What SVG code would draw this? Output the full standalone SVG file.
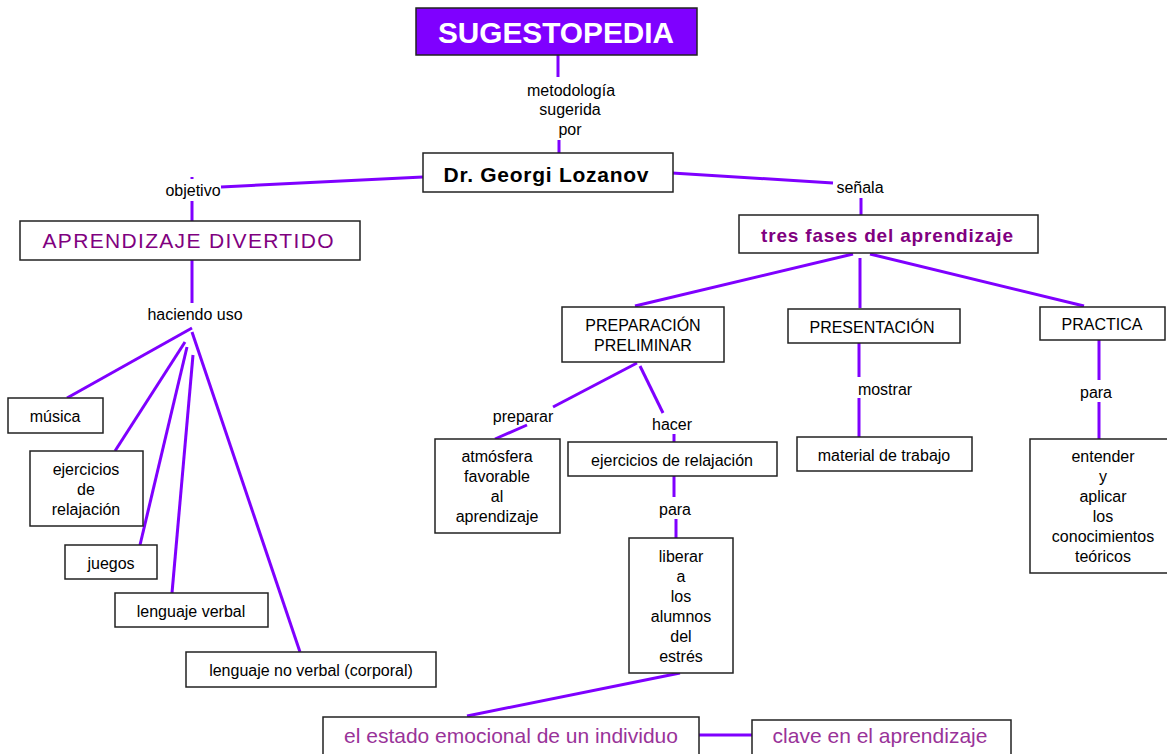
<svg xmlns="http://www.w3.org/2000/svg" width="1167" height="754" viewBox="0 0 1167 754">
<style>
.box{fill:#fff;stroke:#222;stroke-width:1.5}
.t{font-family:"Liberation Sans",Arial,sans-serif;font-size:16px;fill:#000;text-anchor:middle}
.p1{font-family:"Liberation Sans",Arial,sans-serif;font-size:21px;fill:#800080;text-anchor:middle}
.p2{font-family:"Liberation Sans",Arial,sans-serif;font-size:21px;fill:#993399;text-anchor:middle}
.c{stroke:#7F00FF;stroke-width:3;fill:none;stroke-linecap:butt}
</style>
<rect width="1167" height="754" fill="#fff"/>
<g id="connectors">
<line class="c" x1="558" y1="55" x2="558" y2="77"/>
<line class="c" x1="559" y1="140" x2="559" y2="153"/>
<line class="c" x1="423" y1="177" x2="221" y2="187"/>
<line class="c" x1="192" y1="177" x2="192" y2="179"/>
<line class="c" x1="192" y1="201" x2="192" y2="221"/>
<line class="c" x1="192" y1="260" x2="192" y2="303"/>
<line class="c" x1="192" y1="328" x2="67" y2="398"/>
<line class="c" x1="185" y1="342" x2="115" y2="451"/>
<line class="c" x1="187" y1="347" x2="140" y2="545"/>
<line class="c" x1="193" y1="355" x2="172" y2="593"/>
<line class="c" x1="192" y1="332" x2="300" y2="652"/>
<line class="c" x1="672" y1="173" x2="833" y2="183"/>
<line class="c" x1="861" y1="198" x2="861" y2="215"/>
<line class="c" x1="853" y1="254" x2="635" y2="306"/>
<line class="c" x1="860" y1="258" x2="860" y2="308"/>
<line class="c" x1="870" y1="254" x2="1084" y2="306"/>
<line class="c" x1="859" y1="343" x2="859" y2="377"/>
<line class="c" x1="859" y1="398" x2="859" y2="437"/>
<line class="c" x1="1099" y1="340" x2="1099" y2="380"/>
<line class="c" x1="1099" y1="402" x2="1099" y2="439"/>
<line class="c" x1="637" y1="363" x2="553" y2="407"/>
<line class="c" x1="527" y1="425" x2="495" y2="439"/>
<line class="c" x1="640" y1="366" x2="663" y2="413"/>
<line class="c" x1="674" y1="434" x2="674" y2="442"/>
<line class="c" x1="674" y1="476" x2="674" y2="497"/>
<line class="c" x1="676" y1="519" x2="676" y2="538"/>
<line class="c" x1="680" y1="673" x2="467" y2="716"/>
<line class="c" x1="699" y1="735" x2="752" y2="735"/>
</g>
<g id="labels">
<text class="t" x="571" y="96">metodología</text>
<text class="t" x="570" y="115">sugerida</text>
<text class="t" x="570" y="135">por</text>
<text class="t" x="193" y="196">objetivo</text>
<text class="t" x="195" y="320">haciendo uso</text>
<text class="t" x="860" y="193">señala</text>
<text class="t" x="523" y="422">preparar</text>
<text class="t" x="672" y="430">hacer</text>
<text class="t" x="675" y="515">para</text>
<text class="t" x="885" y="395">mostrar</text>
<text class="t" x="1096" y="398">para</text>
</g>
<g id="sugestopedia">
<rect x="416" y="8" width="281" height="47" fill="#7F00FF" stroke="#222" stroke-width="1.5"/>
<text x="556" y="43" font-family="Liberation Sans,Arial,sans-serif" font-size="29" font-weight="bold" fill="#fff" text-anchor="middle" textLength="236" lengthAdjust="spacingAndGlyphs">SUGESTOPEDIA</text>
</g>
<g id="lozanov">
<rect class="box" x="423" y="153" width="250" height="39"/>
<text x="546" y="182" font-family="Liberation Sans,Arial,sans-serif" font-size="21" font-weight="bold" fill="#000" text-anchor="middle" textLength="205" lengthAdjust="spacing">Dr. Georgi Lozanov</text>
</g>
<g id="aprendizaje-divertido">
<rect class="box" x="20" y="221" width="340" height="39"/>
<text class="p1" x="188" y="248" textLength="291" lengthAdjust="spacing">APRENDIZAJE DIVERTIDO</text>
</g>
<g id="musica">
<rect class="box" x="8" y="398" width="95" height="35"/>
<text class="t" x="55" y="422">música</text>
</g>
<g id="ejercicios">
<rect class="box" x="30" y="451" width="113" height="75"/>
<text class="t" x="86" y="475">ejercicios</text>
<text class="t" x="86" y="495">de</text>
<text class="t" x="86" y="515">relajación</text>
</g>
<g id="juegos">
<rect class="box" x="65" y="545" width="92" height="34"/>
<text class="t" x="111" y="569">juegos</text>
</g>
<g id="lenguaje-verbal">
<rect class="box" x="115" y="593" width="153" height="34"/>
<text class="t" x="191" y="617">lenguaje verbal</text>
</g>
<g id="lenguaje-no-verbal">
<rect class="box" x="186" y="652" width="250" height="35"/>
<text class="t" x="311" y="676">lenguaje no verbal (corporal)</text>
</g>
<g id="tres-fases">
<rect class="box" x="739" y="215" width="299" height="38"/>
<text x="887" y="242" font-family="Liberation Sans,Arial,sans-serif" font-size="19" font-weight="bold" fill="#800080" text-anchor="middle" textLength="252" lengthAdjust="spacing">tres fases del aprendizaje</text>
</g>
<g id="preparacion">
<rect class="box" x="562" y="307" width="162" height="55"/>
<text class="t" x="643" y="331">PREPARACIÓN</text>
<text class="t" x="643" y="351">PRELIMINAR</text>
</g>
<g id="presentacion">
<rect class="box" x="788" y="309" width="172" height="34"/>
<text class="t" x="872" y="333">PRESENTACIÓN</text>
</g>
<g id="practica">
<rect class="box" x="1040" y="307" width="125" height="33"/>
<text class="t" x="1102" y="330">PRACTICA</text>
</g>
<g id="atmosfera">
<rect class="box" x="435" y="439" width="125" height="94"/>
<text class="t" x="497" y="462">atmósfera</text>
<text class="t" x="497" y="482">favorable</text>
<text class="t" x="497" y="502">al</text>
<text class="t" x="497" y="522">aprendizaje</text>
</g>
<g id="ejercicios-relajacion">
<rect class="box" x="568" y="442" width="209" height="34"/>
<text class="t" x="672" y="466">ejercicios de relajación</text>
</g>
<g id="liberar">
<rect class="box" x="629" y="538" width="104" height="135"/>
<text class="t" x="681" y="562">liberar</text>
<text class="t" x="681" y="582">a</text>
<text class="t" x="681" y="602">los</text>
<text class="t" x="681" y="622">alumnos</text>
<text class="t" x="681" y="642">del</text>
<text class="t" x="681" y="662">estrés</text>
</g>
<g id="material">
<rect class="box" x="797" y="437" width="175" height="34"/>
<text class="t" x="884" y="461">material de trabajo</text>
</g>
<g id="entender">
<rect class="box" x="1030" y="439" width="140" height="134"/>
<text class="t" x="1103" y="462">entender</text>
<text class="t" x="1103" y="482">y</text>
<text class="t" x="1103" y="502">aplicar</text>
<text class="t" x="1103" y="522">los</text>
<text class="t" x="1103" y="542">conocimientos</text>
<text class="t" x="1103" y="562">teóricos</text>
</g>
<g id="estado-emocional">
<rect class="box" x="323" y="717" width="376" height="50"/>
<text class="p2" x="511" y="743">el estado emocional de un individuo</text>
</g>
<g id="clave">
<rect class="box" x="752" y="720" width="259" height="50"/>
<text class="p2" x="880" y="743">clave en el aprendizaje</text>
</g>
</svg>
